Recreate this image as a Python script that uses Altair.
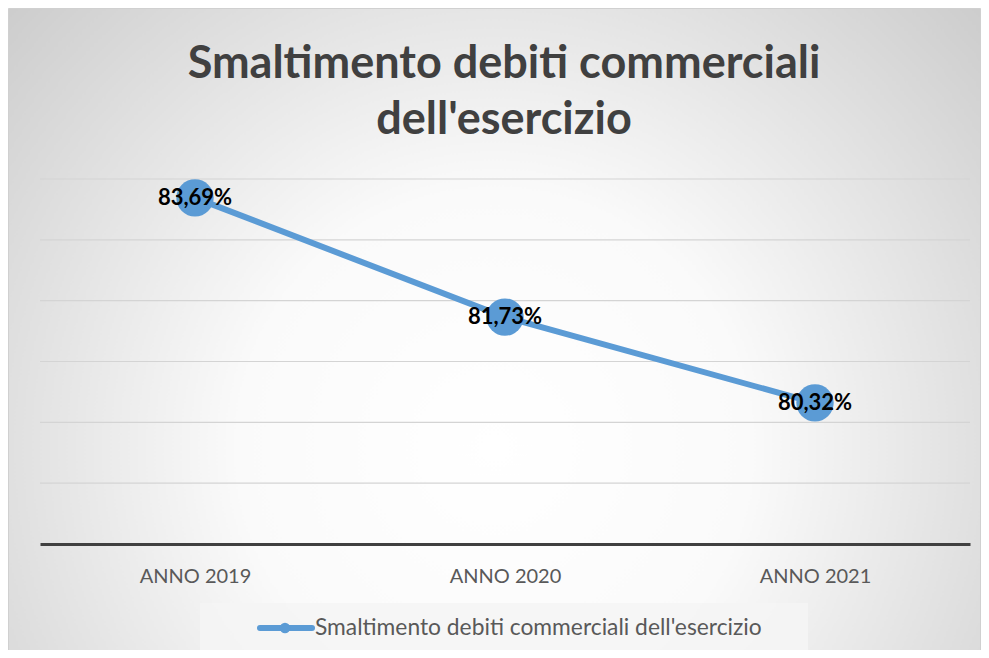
import altair as alt
import pandas as pd

categories = ["ANNO 2019", "ANNO 2020", "ANNO 2021"]
values = [83.69, 81.73, 80.32]
series_name = "Smaltimento debiti commerciali dell'esercizio"
title_lines = ["Smaltimento debiti commerciali", "dell'esercizio"]
y_ticks = [78, 79, 80, 81, 82, 83, 84]

df = pd.DataFrame({
    "anno": categories,
    "valore": values,
    "label": [f"{v:.2f}".replace(".", ",") + "%" for v in values],
})
grid_df = pd.DataFrame({"v": y_ticks[1:]})

W, H = 930, 365
PL, PT, PR, PB = 32, 171, 11, 106
FONT = "Lato"
BLUE = "#5b9bd5"

x_enc = alt.X("anno:N", sort=categories, scale=alt.Scale(type="point", padding=0.5),
              axis=alt.Axis(title=None, labelFontSize=20, labelColor="#595959", labelFont=FONT,
                            labelPadding=22, ticks=False, domainColor="#404040", domainWidth=3,
                            labelAngle=0, grid=False, zindex=1))
y_scale = alt.Scale(domain=[78, 84], nice=False, zero=False)
y_enc = alt.Y("valore:Q", scale=y_scale, axis=None)

bg = alt.Chart(pd.DataFrame({"a": [0]})).mark_rect(
    fill={"gradient": "radial", "x1": 0.5, "y1": 0.62, "r1": 0.0,
          "x2": 0.5, "y2": 0.62, "r2": 0.75,
          "stops": [{"offset": 0, "color": "#ffffff"},
                    {"offset": 0.35, "color": "#fafafa"},
                    {"offset": 1, "color": "#c4c4c4"}]},
    stroke="#d0d0d0", strokeWidth=1,
).encode(x=alt.value(-PL + 0.5), x2=alt.value(W + PR - 0.5),
         y=alt.value(-PT + 0.5), y2=alt.value(H + PB + 2))

grid = alt.Chart(grid_df).mark_rule(color="#d4d4d4", strokeWidth=1.2).encode(
    y=alt.Y("v:Q", scale=y_scale, axis=None), x=alt.value(0), x2=alt.value(W))

title = alt.Chart(pd.DataFrame({"t": title_lines, "yy": [-101, -45]})).mark_text(
    font=FONT, fontSize=45, fontWeight="bold", color="#404040", align="center",
    baseline="alphabetic").encode(x=alt.value(W / 2 - 1), y=alt.Y("yy:Q", scale=None), text="t:N")

base = alt.Chart(df)
line = base.mark_line(color=BLUE, strokeWidth=6).encode(x=x_enc, y=y_enc)
pts = base.mark_point(filled=True, size=1400, color=BLUE, opacity=1).encode(x=x_enc, y=y_enc)
txt = base.mark_text(font=FONT, fontSize=22, fontWeight="bold", color="#000000").encode(
    x=x_enc, y=y_enc, text="label:N")

leg_df = pd.DataFrame({"name": [series_name]})
leg_box = alt.Chart(leg_df).mark_rect(fill="#f4f4f4", opacity=0.85).encode(
    x=alt.value(160), x2=alt.value(768), y=alt.value(424), y2=alt.value(471))
leg_line = alt.Chart(leg_df).mark_rule(color=BLUE, strokeWidth=6, strokeCap="round").encode(
    x=alt.value(220), x2=alt.value(272), y=alt.value(449))
leg_pt = alt.Chart(leg_df).mark_point(filled=True, size=110, color=BLUE, opacity=1).encode(
    x=alt.value(245), y=alt.value(449))
leg_txt = alt.Chart(leg_df).mark_text(font=FONT, fontSize=22.8, color="#595959", align="left",
                                      baseline="middle").encode(
    x=alt.value(275), y=alt.value(449), text="name:N")

chart = alt.layer(bg, grid, title, line, pts, txt, leg_box, leg_line, leg_pt, leg_txt).properties(
    width=W, height=H,
    autosize=alt.AutoSizeParams(type="none"),
    padding={"left": PL, "top": PT, "right": PR, "bottom": PB},
).configure_view(stroke=None).configure(background="#ffffff")

chart.save("out.html", embed_options={"renderer": "svg", "actions": False})
